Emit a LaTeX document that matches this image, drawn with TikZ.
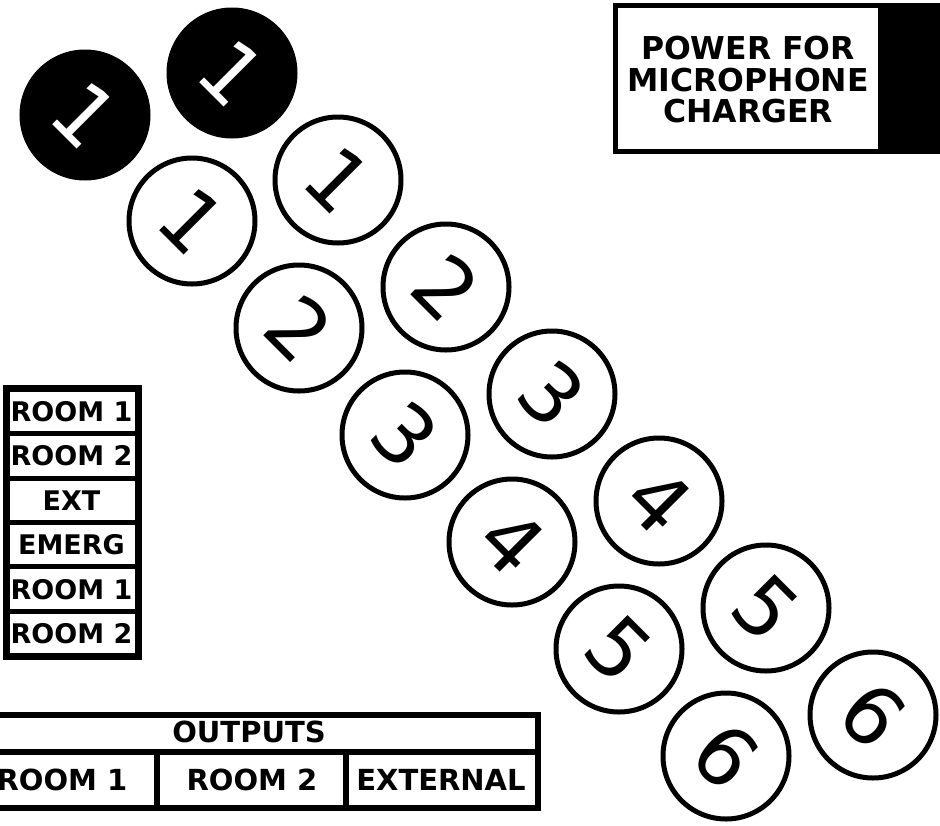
\documentclass[tikz,border=0pt]{standalone}
\usepackage{fontspec}
\setmainfont{DejaVu Sans}
\newfontfamily\digitfont{DejaVu Sans}
\tikzset{
  x=1pt,y=-1pt,
  lab/.style={font=\fontsize{27}{27}\selectfont\bfseries,inner sep=0pt,anchor=center},
  tab/.style={font=\fontsize{29}{29}\selectfont\bfseries,inner sep=0pt,anchor=center},
  pow/.style={font=\fontsize{31.5}{31.5}\selectfont\bfseries,inner sep=0pt,align=center,anchor=center},
  ring/.style={circle,draw=black,fill=white,line width=5pt,minimum size=126pt,inner sep=0pt,
    font=\fontsize{82}{82}\digitfont,text=black,rotate=-45},
  solid disc/.style={circle,draw=black,fill=black,line width=1pt,minimum size=130pt,inner sep=0pt,
    font=\fontsize{82}{82}\digitfont,text=white,rotate=-45},
}
\begin{document}
\begin{tikzpicture}
\useasboundingbox (0,0) rectangle (940,825);
% charger
\draw[line width=5pt,fill=white] (615.5,5.5) rectangle (890,151.5);
\fill[black] (878,3) rectangle (940,154);
\node[pow] (powertext) at (748,80) {POWER FOR\\MICROPHONE\\CHARGER};
% discs
\node[solid disc] (k1) at (85,115) {1};
\node[solid disc] (k2) at (232,73) {1};
\node[ring] (a1) at (192,221) {1};
\node[ring] (b1) at (338,180) {1};
\node[ring] (a2) at (299,328) {2};
\node[ring] (b2) at (446,287) {2};
\node[ring] (a3) at (405,435) {3};
\node[ring] (b3) at (552,394) {3};
\node[ring] (a4) at (512,542) {4};
\node[ring] (b4) at (659,501) {4};
\node[ring] (a5) at (619,649) {5};
\node[ring] (b5) at (766,608) {5};
\node[ring] (a6) at (726,756) {6};
\node[ring] (b6) at (873,715) {6};
% list
\draw[line width=7pt,fill=white] (6.5,388.5) rectangle (138.5,656.5);
\draw[line width=5pt] (6.5,433.5) -- (138.5,433.5) (6.5,478) -- (138.5,478) (6.5,522) -- (138.5,522) (6.5,566.5) -- (138.5,566.5) (6.5,611) -- (138.5,611);
\node[lab] (l1) at (71.5,412) {ROOM 1};
\node[lab] (l2) at (71.5,456) {ROOM 2};
\node[lab] (l3) at (71.5,501) {EXT};
\node[lab] (l4) at (71.5,545) {EMERG};
\node[lab] (l5) at (71.5,589.5) {ROOM 1};
\node[lab] (l6) at (71.5,634) {ROOM 2};
% outputs
\draw[line width=6pt,fill=white] (-10,714.5) rectangle (538,807.5);
\draw[line width=6pt] (-10,752) -- (538,752) (157,752) -- (157,807.5) (346,752) -- (346,807.5);
\node[tab] (o0) at (249,732) {OUTPUTS};
\node[tab] (o1) at (62,780) {ROOM 1};
\node[tab] (o2) at (252,780) {ROOM 2};
\node[tab] (o3) at (441,780) {EXTERNAL};
\end{tikzpicture}
\end{document}
